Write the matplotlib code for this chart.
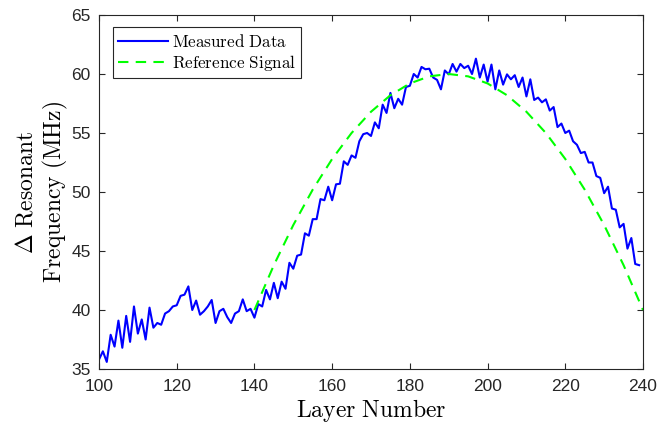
import numpy as np
import matplotlib
matplotlib.use("Agg")
import matplotlib.pyplot as plt

# Measured data (one point per layer, 100..239)
layers = list(range(100, 240))
measured = [
    35.8, 36.5, 35.6, 37.9, 36.9, 39.1, 36.8, 39.5, 37.3, 40.3,
    38.0, 39.2, 37.5, 40.2, 38.5, 38.9, 38.75, 39.7, 39.9, 40.3,
    40.4, 41.2, 41.3, 42.0, 40.0, 40.8, 39.6, 39.9, 40.3, 40.85,
    38.9, 39.9, 40.1, 39.4, 38.9, 39.7, 39.9, 40.9, 39.9, 40.1,
    39.35, 40.5, 40.3, 41.7, 40.9, 42.3, 41.0, 42.4, 41.8, 44.0,
    43.5, 44.6, 44.7, 46.5, 46.3, 47.7, 47.7, 49.4, 49.3, 50.45,
    49.3, 50.65, 50.7, 52.6, 52.3, 53.1, 52.9, 54.3, 54.9, 55.0,
    54.75, 55.9, 55.4, 57.4, 56.7, 58.4, 57.1, 57.9, 57.4, 58.9,
    59.0, 60.0, 59.7, 60.6, 60.4, 60.45, 59.7, 59.5, 58.7, 60.3,
    59.97, 60.85, 60.2, 60.85, 60.5, 60.7, 60.0, 61.3, 59.7, 60.8,
    59.35, 60.8, 58.7, 60.3, 59.1, 59.97, 59.55, 59.9, 58.9, 59.7,
    58.1, 59.55, 57.8, 58.0, 57.6, 57.85, 56.9, 57.2, 55.5, 55.8,
    55.0, 55.2, 54.3, 54.0, 53.3, 53.4, 52.5, 52.5, 51.35, 51.2,
    49.9, 50.45, 48.6, 48.5, 47.0, 47.3, 45.2, 46.1, 43.9, 43.8,
]

# Reference signal, read every 5 layers
ref_layers = [140, 145, 150, 155, 160, 165, 170, 175, 180, 185, 190,
              195, 200, 205, 210, 215, 220, 225, 230, 235, 240]
ref_values = [40.0, 43.8, 47.2, 50.2, 52.8, 55.0, 56.8, 58.2, 59.2, 59.8, 60.0,
              59.8, 59.2, 58.2, 56.8, 55.0, 52.8, 50.2, 47.2, 43.8, 40.0]

x_ticks = [100, 120, 140, 160, 180, 200, 220, 240]
y_ticks = [35, 40, 45, 50, 55, 60, 65]

plt.rcParams['mathtext.fontset'] = 'cm'
plt.rcParams['font.family'] = ['Liberation Sans', 'DejaVu Sans']

fig = plt.figure(figsize=(6.58, 4.25), dpi=100)
ax = fig.add_axes([99/658, 1-369/425, (643-99)/658, (369-15)/425])

ax.plot(layers, measured, color='#0000ff', lw=1.5, label=r'$\mathrm{Measured\ Data}$')
ax.plot(ref_layers, ref_values, color='#00ff00', lw=1.5, ls=(0, (5, 3.5)),
        label=r'$\mathrm{Reference\ Signal}$')

ax.set_xlim(100, 240)
ax.set_ylim(35, 65)
ax.set_xticks(x_ticks)
ax.set_yticks(y_ticks)

spine_col = '#262626'
for s in ax.spines.values():
    s.set_color(spine_col)
    s.set_linewidth(0.8)
ax.tick_params(direction='in', length=4, width=0.8, colors=spine_col,
               labelcolor='#262626', labelsize=12.5, top=True, right=True)
ax.tick_params(axis='x', pad=7)
ax.tick_params(axis='y', pad=6)

ax.set_xlabel(r'$\mathrm{Layer\ Number}$', fontsize=17, labelpad=2)
ax.set_ylabel(r'$\Delta\ \mathrm{Resonant}$' + '\n' + r'$\mathrm{Frequency\ (MHz)}$',
              fontsize=17, labelpad=1, linespacing=1.15)

leg = ax.legend(loc='upper left', bbox_to_anchor=(0.025, 0.965), fontsize=12.3,
                handlelength=2.95, handletextpad=0.2, borderpad=0.3,
                labelspacing=0.2, fancybox=False, framealpha=1,
                edgecolor=spine_col, borderaxespad=0)
leg.get_frame().set_linewidth(0.8)

fig.savefig('out.png', dpi=100)
